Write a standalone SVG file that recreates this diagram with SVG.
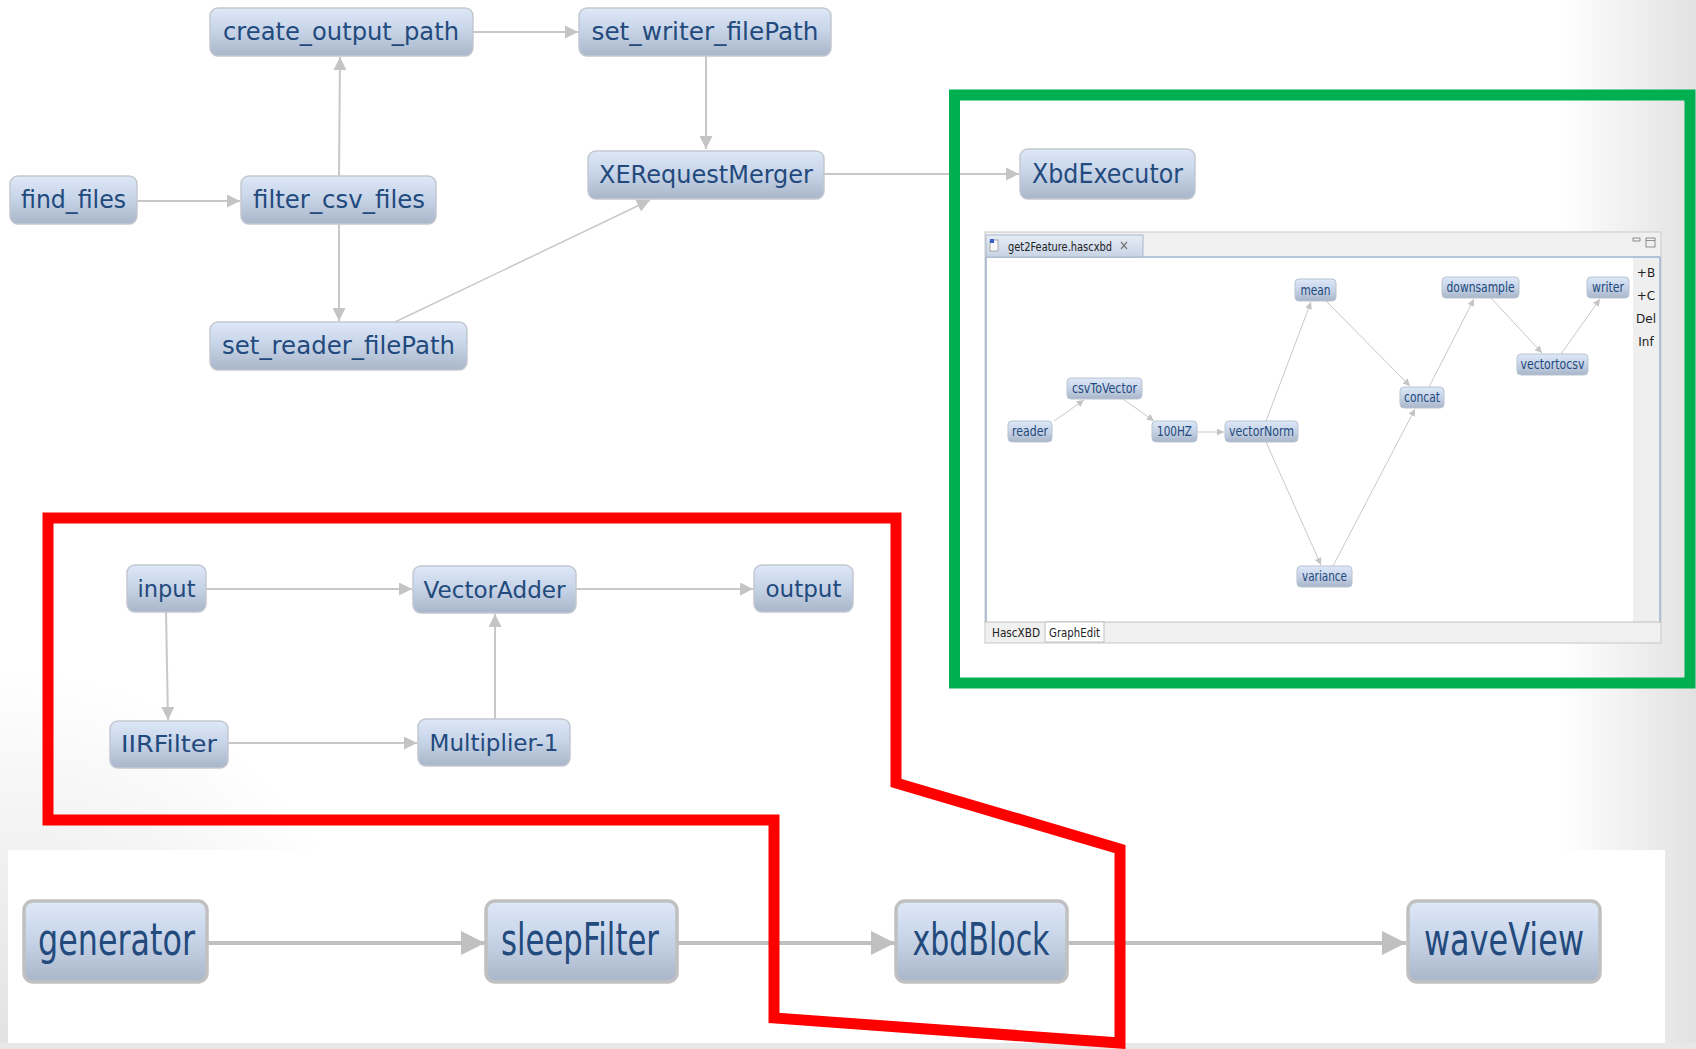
<svg xmlns="http://www.w3.org/2000/svg" width="1696" height="1049" viewBox="0 0 1696 1049">
<defs>
<linearGradient id="bgr" gradientUnits="userSpaceOnUse" x1="1560" y1="0" x2="1696" y2="0">
<stop offset="0" stop-color="#e2e2e2" stop-opacity="0"/>
<stop offset="1" stop-color="#e2e2e2" stop-opacity="1"/>
</linearGradient>
<radialGradient id="bgl" gradientUnits="userSpaceOnUse" cx="0" cy="1049" r="380">
<stop offset="0" stop-color="#e2e2e2" stop-opacity="1"/>
<stop offset="1" stop-color="#e2e2e2" stop-opacity="0"/>
</radialGradient>
<linearGradient id="ng" x1="0" y1="0" x2="0" y2="1">
<stop offset="0" stop-color="#dde8f8"/>
<stop offset="0.5" stop-color="#c6d3e7"/>
<stop offset="1" stop-color="#a9b5c8"/>
</linearGradient>
<linearGradient id="tabg" x1="0" y1="0" x2="0" y2="1">
<stop offset="0" stop-color="#e6edf7"/>
<stop offset="1" stop-color="#c7d3e4"/>
</linearGradient>
<marker id="a" viewBox="0 0 10 10" refX="10" refY="5" markerWidth="19" markerHeight="13" markerUnits="userSpaceOnUse" orient="auto">
<path d="M0,0 L10,5 L0,10 z" fill="#c4c4c4"/>
</marker>
<marker id="ab" viewBox="0 0 10 10" refX="10" refY="5" markerWidth="24" markerHeight="24" markerUnits="userSpaceOnUse" orient="auto">
<path d="M0,0 L10,5 L0,10 z" fill="#c0c0c0"/>
</marker>
<marker id="as" viewBox="0 0 10 10" refX="10" refY="5" markerWidth="9" markerHeight="7" markerUnits="userSpaceOnUse" orient="auto">
<path d="M0,0 L10,5 L0,10 z" fill="#c4c4c4"/>
</marker>
</defs>
<style>
.n rect{fill:url(#ng);stroke:#c3c8d0;stroke-width:1.5}
.nb rect{fill:url(#ng);stroke:#c0c0c0;stroke-width:3.5}
.ns rect{fill:url(#ng);stroke:#b9c3d1;stroke-width:1}
.t{font-family:"DejaVu Sans","Liberation Sans",sans-serif;fill:#234a7d;text-anchor:middle}
.e{fill:none;stroke:#c8c8c8;stroke-width:2;marker-end:url(#a)}
.eb{fill:none;stroke:#c0c0c0;stroke-width:4;marker-end:url(#ab)}
.es{fill:none;stroke:#c8c8c8;stroke-width:1;marker-end:url(#as)}
.ui{font-family:"DejaVu Sans","Liberation Sans",sans-serif;fill:#222;font-size:12px}
</style>
<rect x="0" y="0" width="1696" height="1049" fill="#ffffff"/>
<rect x="1560" y="0" width="136" height="1049" fill="url(#bgr)"/>
<rect x="0" y="669" width="380" height="380" fill="url(#bgl)"/>
<rect x="0" y="1043" width="1696" height="6" fill="#e8e8e8"/>
<rect x="8" y="850" width="1657" height="193" fill="#ffffff"/>

<g id="connectors">
<path class="e" d="M473,32 L578,32"/>
<path class="e" d="M706,56 L706,149"/>
<path class="e" d="M339,176 L340,57"/>
<path class="e" d="M137,201 L240,201"/>
<path class="e" d="M339,224 L339,321"/>
<path class="e" style="stroke-width:1.5" d="M395,322 L650,200"/>
<path class="e" d="M824,174 L1019,174"/>
<path class="e" d="M206,589 L412,589"/>
<path class="e" d="M576,589 L753,589"/>
<path class="e" d="M166,612 L168,720"/>
<path class="e" d="M228,743 L417,743"/>
<path class="e" d="M495,719 L495,614"/>
<path class="eb" d="M207,943 L485,943"/>
<path class="eb" d="M677,943 L895,943"/>
<path class="eb" d="M1067,943 L1406,943"/>
</g>

<g id="n-create_output_path" class="n"><rect x="210" y="8" width="263" height="48" rx="8"/><text class="t" x="341" y="40" font-size="25" textLength="236" lengthAdjust="spacingAndGlyphs">create_output_path</text></g>
<g id="n-set_writer_filePath" class="n"><rect x="579" y="8" width="252" height="48" rx="8"/><text class="t" x="705" y="40" font-size="25" textLength="227" lengthAdjust="spacingAndGlyphs">set_writer_filePath</text></g>
<g id="n-find_files" class="n"><rect x="10" y="176" width="127" height="48" rx="8"/><text class="t" x="73.5" y="208" font-size="25" textLength="105" lengthAdjust="spacingAndGlyphs">find_files</text></g>
<g id="n-filter_csv_files" class="n"><rect x="241" y="176" width="195" height="48" rx="8"/><text class="t" x="339" y="208" font-size="25" textLength="172" lengthAdjust="spacingAndGlyphs">filter_csv_files</text></g>
<g id="n-XERequestMerger" class="n"><rect x="588" y="151" width="236" height="48" rx="8"/><text class="t" x="706" y="183" font-size="25" textLength="214" lengthAdjust="spacingAndGlyphs">XERequestMerger</text></g>
<g id="n-set_reader_filePath" class="n"><rect x="210" y="322" width="257" height="48" rx="8"/><text class="t" x="338.5" y="354" font-size="25" textLength="233" lengthAdjust="spacingAndGlyphs">set_reader_filePath</text></g>
<g id="n-XbdExecutor" class="n"><rect x="1020" y="149" width="175" height="50" rx="8"/><text class="t" x="1107.5" y="183" font-size="27" textLength="151" lengthAdjust="spacingAndGlyphs">XbdExecutor</text></g>

<g id="n-input" class="n"><rect x="127" y="565" width="79" height="47" rx="8"/><text class="t" x="166.5" y="597" font-size="23" textLength="58" lengthAdjust="spacingAndGlyphs">input</text></g>
<g id="n-VectorAdder" class="n"><rect x="413" y="566" width="163" height="47" rx="8"/><text class="t" x="494.5" y="598" font-size="23" textLength="142" lengthAdjust="spacingAndGlyphs">VectorAdder</text></g>
<g id="n-output" class="n"><rect x="754" y="565" width="99" height="47" rx="8"/><text class="t" x="803.5" y="597" font-size="23" textLength="76" lengthAdjust="spacingAndGlyphs">output</text></g>
<g id="n-IIRFilter" class="n"><rect x="110" y="721" width="118" height="47" rx="8"/><text class="t" x="169" y="752" font-size="23" textLength="96" lengthAdjust="spacingAndGlyphs">IIRFilter</text></g>
<g id="n-Multiplier-1" class="n"><rect x="418" y="719" width="152" height="47" rx="8"/><text class="t" x="494" y="751" font-size="23" textLength="129" lengthAdjust="spacingAndGlyphs">Multiplier-1</text></g>

<g id="n-generator" class="nb"><rect x="24" y="901" width="183" height="81" rx="9"/><text class="t" x="116.5" y="955" font-size="45" textLength="157" lengthAdjust="spacingAndGlyphs">generator</text></g>
<g id="n-sleepFilter" class="nb"><rect x="486" y="901" width="191" height="81" rx="9"/><text class="t" x="580" y="955" font-size="45" textLength="158" lengthAdjust="spacingAndGlyphs">sleepFilter</text></g>
<g id="n-xbdBlock" class="nb"><rect x="896" y="901" width="171" height="81" rx="9"/><text class="t" x="981" y="955" font-size="45" textLength="137" lengthAdjust="spacingAndGlyphs">xbdBlock</text></g>
<g id="n-waveView" class="nb"><rect x="1408" y="901" width="192" height="81" rx="9"/><text class="t" x="1504" y="955" font-size="45" textLength="160" lengthAdjust="spacingAndGlyphs">waveView</text></g>

<g id="editor-panel">
<rect x="985" y="232" width="676" height="411" fill="#f0f0f0" stroke="#c8c8c8" stroke-width="1"/>
<rect x="987" y="257" width="646" height="365" fill="#ffffff"/>
<rect x="1633" y="257" width="26" height="365" fill="#efefef"/>
<path d="M986,257 L1660,257 M986,257 L986,622 M1660,257 L1660,622" stroke="#9fb5d2" stroke-width="1.5" fill="none"/>
<rect x="986" y="235" width="157" height="22" fill="url(#tabg)" stroke="#a9b8cc" stroke-width="1"/>
<rect x="990" y="240" width="8" height="11" fill="#fafafa" stroke="#999" stroke-width="0.8"/>
<rect x="990" y="239" width="4" height="4" fill="#3a5fcd"/>
<text class="ui" x="1008" y="251" font-size="12" textLength="104" lengthAdjust="spacingAndGlyphs">get2Feature.hascxbd</text>
<path d="M1121,242 L1127,249 M1127,242 L1121,249" stroke="#777" stroke-width="1.2"/>
<rect x="1633" y="238" width="7" height="3" fill="none" stroke="#777" stroke-width="0.8"/>
<rect x="1646" y="238" width="9" height="9" fill="none" stroke="#777" stroke-width="0.8"/>
<path d="M1646,240.5 L1655,240.5" stroke="#777" stroke-width="0.8"/>
<text class="ui" x="1646" y="277" text-anchor="middle">+B</text>
<text class="ui" x="1646" y="300" text-anchor="middle">+C</text>
<text class="ui" x="1646" y="323" text-anchor="middle">Del</text>
<text class="ui" x="1646" y="346" text-anchor="middle">Inf</text>
<path d="M985,622 L1661,622" stroke="#c0c0c0" stroke-width="1"/>
<rect x="1045" y="622" width="59" height="20" fill="#ffffff" stroke="#c0c0c0" stroke-width="1"/>
<text class="ui" x="992" y="637" font-size="12" textLength="48" lengthAdjust="spacingAndGlyphs">HascXBD</text>
<text class="ui" x="1049" y="637" font-size="12" textLength="51" lengthAdjust="spacingAndGlyphs">GraphEdit</text>

<g id="inner-connectors">
<path class="es" d="M1054,421 L1084,400"/>
<path class="es" d="M1123,399 L1154,421"/>
<path class="es" d="M1197,432 L1224,432"/>
<path class="es" d="M1266,421 L1311,302"/>
<path class="es" d="M1266,442 L1321,565"/>
<path class="es" d="M1326,301 L1410,386"/>
<path class="es" d="M1333,566 L1415,409"/>
<path class="es" d="M1429,387 L1474,299"/>
<path class="es" d="M1491,298 L1542,353"/>
<path class="es" d="M1561,354 L1600,299"/>
</g>
<g id="i-mean" class="ns"><rect x="1295" y="279" width="41" height="22" rx="4"/><text class="t" x="1315.5" y="295" font-size="13.5" textLength="30" lengthAdjust="spacingAndGlyphs">mean</text></g>
<g id="i-downsample" class="ns"><rect x="1442" y="277" width="77" height="21" rx="4"/><text class="t" x="1480.5" y="292" font-size="13.5" textLength="68" lengthAdjust="spacingAndGlyphs">downsample</text></g>
<g id="i-writer" class="ns"><rect x="1587" y="277" width="42" height="21" rx="4"/><text class="t" x="1608" y="292" font-size="13.5" textLength="32" lengthAdjust="spacingAndGlyphs">writer</text></g>
<g id="i-csvToVector" class="ns"><rect x="1067" y="378" width="75" height="21" rx="4"/><text class="t" x="1104.5" y="393" font-size="13.5" textLength="65" lengthAdjust="spacingAndGlyphs">csvToVector</text></g>
<g id="i-reader" class="ns"><rect x="1008" y="421" width="44" height="21" rx="4"/><text class="t" x="1030" y="436" font-size="13.5" textLength="36" lengthAdjust="spacingAndGlyphs">reader</text></g>
<g id="i-100HZ" class="ns"><rect x="1152" y="421" width="45" height="21" rx="4"/><text class="t" x="1174.5" y="436" font-size="13.5" textLength="35" lengthAdjust="spacingAndGlyphs">100HZ</text></g>
<g id="i-vectorNorm" class="ns"><rect x="1225" y="421" width="73" height="21" rx="4"/><text class="t" x="1261.5" y="436" font-size="13.5" textLength="65" lengthAdjust="spacingAndGlyphs">vectorNorm</text></g>
<g id="i-concat" class="ns"><rect x="1400" y="387" width="44" height="21" rx="4"/><text class="t" x="1422" y="402" font-size="13.5" textLength="36" lengthAdjust="spacingAndGlyphs">concat</text></g>
<g id="i-vectortocsv" class="ns"><rect x="1517" y="354" width="71" height="21" rx="4"/><text class="t" x="1552.5" y="369" font-size="13.5" textLength="64" lengthAdjust="spacingAndGlyphs">vectortocsv</text></g>
<g id="i-variance" class="ns"><rect x="1297" y="566" width="55" height="21" rx="4"/><text class="t" x="1324.5" y="581" font-size="13.5" textLength="45" lengthAdjust="spacingAndGlyphs">variance</text></g>
</g>

<rect id="green-frame" x="954.5" y="95" width="735.5" height="588" fill="none" stroke="#00b050" stroke-width="11"/>
<polygon id="red-frame" points="48,518 896,518 896,783 1120,849 1120,1043 774,1018 774,820 48,820" fill="none" stroke="#ff0000" stroke-width="11" stroke-linejoin="miter"/>
</svg>
